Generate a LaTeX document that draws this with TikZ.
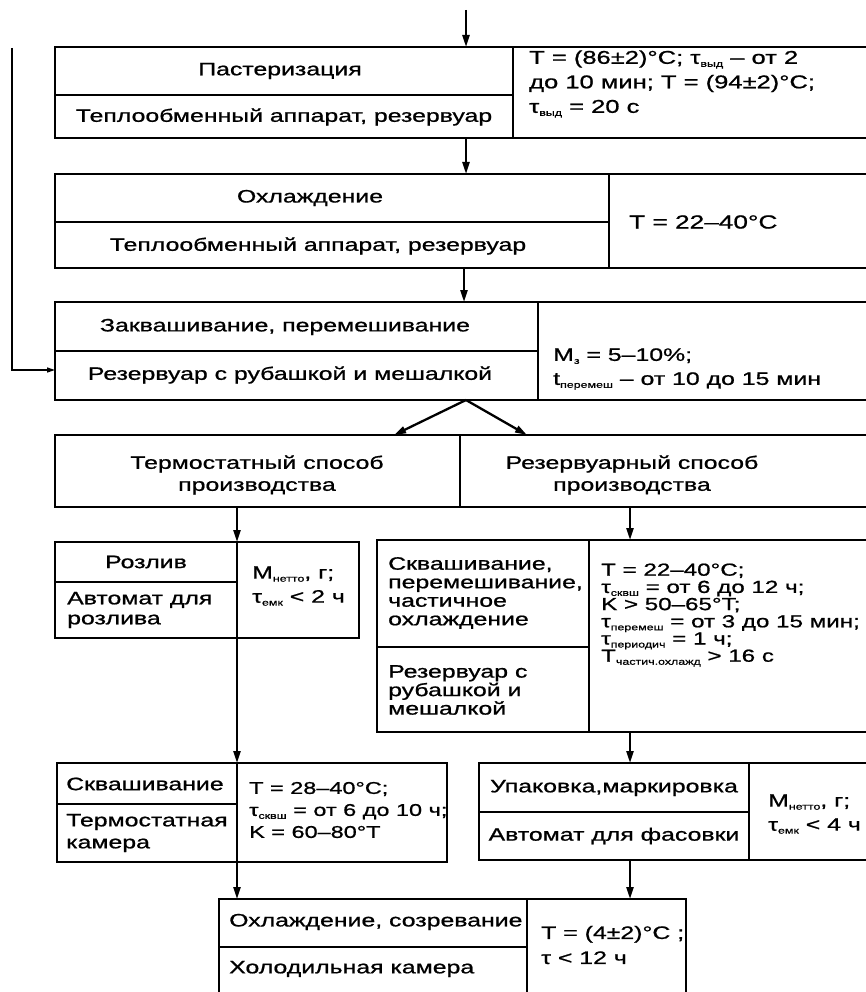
\documentclass[tikz,border=0pt]{standalone}
\usepackage{fontspec}
\setmainfont[FakeStretch=1.38,FakeBold=0.9]{Liberation Sans}
\usetikzlibrary{arrows.meta,calc}
% small lowered index in the style of the printed formulas
\newcommand{\subidx}[1]{\raisebox{-3pt}{\fontsize{9}{9}\selectfont #1}}
\newcommand{\lbfont}{\fontsize{18}{22}\selectfont}

\tikzset{
  frame/.style={draw, line width=1.7pt, rectangle, inner sep=0pt, outer sep=0pt, anchor=north west},
  rule/.style={line width=1.5pt},
  arr/.style={line width=2.3pt, -{Triangle[length=12pt,width=7pt]}},
  thinarr/.style={line width=1.3pt, -{Triangle[length=8pt,width=5pt]}},
  lbl/.style={inner sep=0pt, font=\lbfont, align=center},
  lblL/.style={inner sep=0pt, font=\lbfont, align=left, anchor=west},
}

\begin{document}
\begin{tikzpicture}[x=1pt, y=-1pt]
\useasboundingbox (0,0) rectangle (865,992);

% ---------- frames ----------
\node[frame, minimum width=845pt, minimum height=91pt]  (b1) at (55,47)  {};
\node[frame, minimum width=845pt, minimum height=94pt]  (b2) at (55,174) {};
\node[frame, minimum width=845pt, minimum height=98pt]  (b3) at (55,302) {};
\node[frame, minimum width=845pt, minimum height=72pt]  (b4) at (55,435) {};
\node[frame, minimum width=304pt, minimum height=96pt]  (b5) at (55,542) {};
\node[frame, minimum width=523pt, minimum height=192pt] (b6) at (377,540) {};
\node[frame, minimum width=390pt, minimum height=99pt]  (b7) at (57,763) {};
\node[frame, minimum width=421pt, minimum height=97pt]  (b8) at (479,763) {};
\node[frame, minimum width=467pt, minimum height=130pt] (b9) at (219,899) {};

% ---------- column splits and row dividers ----------
\foreach \b/\sx/\dy in {b1/458/48, b2/554/48, b3/483/49, b5/182/40, b6/212/107, b7/180/41, b8/270/49, b9/308/48}{
  \draw[rule] ($(\b.north west)+(\sx,0)$) -- ($(\b.south west)+(\sx,0)$);
  \draw[rule] ($(\b.north west)+(0,\dy)$) -- ($(\b.north west)+(\sx,\dy)$);
}
\draw[rule] ($(b4.north west)+(405,0)$) -- ($(b4.south west)+(405,0)$);

% ---------- texts ----------
\node[lbl] (t1a) at (280,71)  {Пастеризация};
\node[lbl] (t1b) at (284,117) {Теплообменный аппарат, резервуар};
\node[lblL, font=\fontsize{18.5}{24.5}\selectfont] (t1c) at (529,84)
  {T = (86±2)°C; τ\subidx{выд} – от 2\\до 10 мин; T = (94±2)°C;\\τ\subidx{выд} = 20 с};

\node[lbl] (t2a) at (310,198) {Охлаждение};
\node[lbl] (t2b) at (318,246) {Теплообменный аппарат, резервуар};
\node[lblL, font=\fontsize{19}{22}\selectfont] (t2c) at (629,222) {T = 22–40°C};

\node[lbl] (t3a) at (285,327) {Заквашивание, перемешивание};
\node[lbl] (t3b) at (290,375) {Резервуар с рубашкой и мешалкой};
\node[lblL, font=\fontsize{18}{24}\selectfont] (t3c) at (553,369)
  {M\subidx{з} = 5–10\%;\\t\subidx{перемеш} – от 10 до 15 мин};

\node[lbl] (t4a) at (257,475) {Термостатный способ\\производства};
\node[lbl] (t4b) at (632,475) {Резервуарный способ\\производства};

\node[lbl] (t5a) at (146,562) {Розлив};
\node[lblL, font=\fontsize{18}{20}\selectfont] (t5b) at (67,610) {Автомат для\\розлива};
\node[lblL, font=\fontsize{18}{24}\selectfont] (t5c) at (252,586) {M\subidx{нетто}, г;\\τ\subidx{емк} < 2 ч};

\node[lblL, font=\fontsize{18}{18.5}\selectfont] (t6a) at (388,593)
  {Сквашивание,\\перемешивание,\\частичное\\охлаждение};
\node[lblL, font=\fontsize{18}{18.5}\selectfont] (t6b) at (388,690)
  {Резервуар с\\рубашкой и\\мешалкой};
\node[lblL, font=\fontsize{17.5}{17.2}\selectfont] (t6c) at (601,615)
  {T = 22–40°C;\\τ\subidx{сквш} = от 6 до 12 ч;\\K > 50–65°T;\\τ\subidx{перемеш} = от 3 до 15 мин;\\τ\subidx{периодич} = 1 ч;\\T\subidx{частич.охлажд} > 16 с};

\node[lblL] (t7a) at (66,784) {Сквашивание};
\node[lblL, font=\fontsize{18}{22}\selectfont] (t7b) at (66,833) {Термостатная\\камера};
\node[lblL, font=\fontsize{17}{22}\selectfont] (t7c) at (249,810)
  {T = 28–40°C;\\τ\subidx{сквш} = от 6 до 10 ч;\\K = 60–80°T};

\node[lbl] (t8a) at (614,788) {Упаковка,маркировка};
\node[lbl] (t8b) at (614,836) {Автомат для фасовки};
\node[lblL, font=\fontsize{18}{24}\selectfont] (t8c) at (768,814) {M\subidx{нетто}, г;\\τ\subidx{емк} < 4 ч};

\node[lblL] (t9a) at (229,922) {Охлаждение, созревание};
\node[lblL] (t9b) at (229,969) {Холодильная камера};
\node[lblL, font=\fontsize{18}{25}\selectfont] (t9c) at (541,945) {T = (4±2)°C ;\\τ < 12 ч};

% ---------- connectors ----------
\coordinate (inlet) at (466,10);
\coordinate (xm) at (466,0);
\coordinate (xm2) at (464,0);
\coordinate (xl) at (237,0);
\coordinate (xr) at (630,0);
\coordinate (forkL) at (394,0);
\coordinate (forkR) at (527,0);
\coordinate (fbtop) at (12,48);
\coordinate (fbturn) at (12,370);

\draw[arr] (inlet) -- (b1.north -| inlet);
\draw[arr] (b1.south -| xm) -- (b2.north -| xm);
\draw[arr] (b2.south -| xm2) -- (b3.north -| xm2);
\draw[arr] (b3.south -| xm) -- (b4.north -| forkL);
\draw[arr] (b3.south -| xm) -- (b4.north -| forkR);
\draw[arr] (b4.south -| xl) -- (b5.north -| xl);
\draw[arr] (b4.south -| xr) -- (b6.north -| xr);
\draw[arr] (b5.south -| xl) -- (b7.north -| xl);
\draw[arr] (b6.south -| xr) -- (b8.north -| xr);
\draw[arr] (b7.south -| xl) -- (b9.north -| xl);
\draw[arr] (b8.south -| xr) -- (b9.north -| xr);
\draw[thinarr] (fbtop) -- (fbturn) -- (b3.west |- fbturn);
\end{tikzpicture}
\end{document}
